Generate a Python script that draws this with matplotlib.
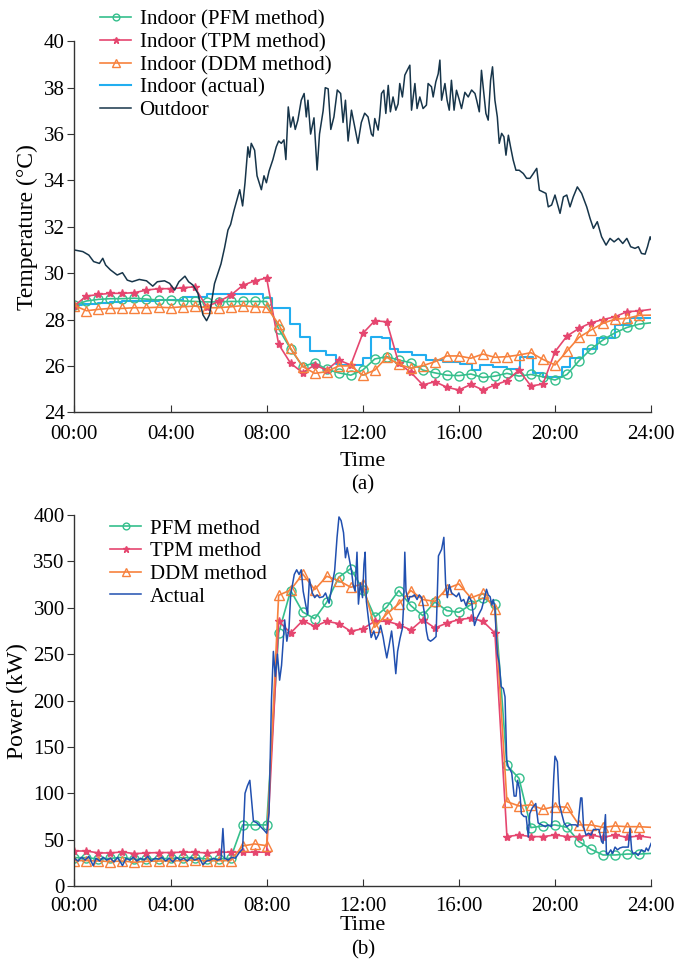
import numpy as np
import matplotlib
matplotlib.use('Agg')
import matplotlib.pyplot as plt

plt.rcParams['font.family'] = ['Liberation Serif', 'DejaVu Serif']
plt.rcParams['font.size'] = 15

# half-hourly model results (00:00 ... 24:00)
hours = np.arange(49) * 0.5

# ---- (a) indoor / outdoor temperature ----
pfm_temp = [28.62, 28.8, 28.87, 28.9, 28.9, 28.92, 28.88, 28.84, 28.84, 28.8, 28.78, 28.76, 28.76,
            28.78, 28.78, 28.78, 28.78, 27.6, 26.73, 25.97, 26.14, 25.85, 25.7, 25.6, 25.82, 26.3,
            26.4, 26.25, 26.14, 25.82, 25.7, 25.6, 25.58, 25.65, 25.5, 25.56, 25.68, 25.56, 25.63,
            25.53, 25.39, 25.63, 26.22, 26.73, 27.12, 27.43, 27.66, 27.8, 27.86]
tpm_temp = [28.6, 29.01, 29.08, 29.13, 29.13, 29.16, 29.27, 29.33, 29.33, 29.37, 29.41, 28.55, 28.78,
            29.04, 29.47, 29.67, 29.79, 26.93, 26.11, 25.71, 26.04, 25.82, 26.25, 26.04, 27.4, 27.95,
            27.9, 26.11, 25.72, 25.18, 25.32, 25.08, 24.96, 25.2, 24.96, 25.18, 25.36, 25.82, 25.13,
            25.22, 26.61, 27.29, 27.62, 27.86, 28.0, 28.12, 28.34, 28.37, 28.44]
ddm_temp = [28.6, 28.38, 28.44, 28.48, 28.48, 28.51, 28.51, 28.53, 28.51, 28.55, 28.58, 28.51, 28.51,
            28.55, 28.6, 28.55, 28.53, 27.8, 26.76, 25.97, 25.68, 25.75, 26.0, 26.0, 25.6, 25.82,
            26.37, 26.07, 25.9, 26.01, 26.18, 26.43, 26.43, 26.33, 26.51, 26.37, 26.4, 26.47, 26.57,
            26.28, 26.04, 26.64, 27.23, 27.55, 27.84, 28.02, 28.05, 28.18, 28.19]

# measured indoor temperature (step changes)
indoor_t = [0, 0.3, 1.0, 1.5, 2.0, 2.5, 3.0, 3.5, 4.0, 4.5, 5.5, 7.85, 8.22, 8.99, 9.375, 9.79,
            10.49, 10.9, 11.04, 12.0, 12.36, 12.78, 13.125, 13.47, 14.03, 14.65, 15.35, 16.04,
            16.53, 16.875, 17.43, 17.99, 18.54, 19.1, 19.51, 20.28, 20.625, 21.18, 21.74, 22.5,
            23.125, 24.0]
indoor_v = [28.62, 28.68, 28.72, 28.75, 28.78, 28.8, 28.82, 28.84, 28.86, 28.97, 29.08, 28.94,
            28.48, 27.8, 27.24, 26.64, 26.47, 26.1, 26.04, 26.33, 27.26, 27.2, 26.73, 26.61, 26.47,
            26.25, 26.18, 26.08, 25.82, 26.04, 25.97, 25.87, 26.4, 25.7, 25.53, 25.97, 26.33, 26.72,
            27.19, 27.76, 28.05, 28.05]

# outdoor temperature
outdoor_t = [0.0, 0.35, 0.6, 0.8, 1.04, 1.18, 1.3, 1.5, 1.78, 2.0, 2.2, 2.4, 2.7, 3.0, 3.26, 3.45,
             3.75, 3.96, 4.17, 4.35, 4.6, 4.75, 4.93, 5.14, 5.35, 5.5, 5.62, 5.83, 6.1, 6.25, 6.39,
             6.5, 6.64, 6.8, 6.88, 7.0, 7.1, 7.22, 7.29, 7.36, 7.5, 7.6, 7.78, 7.89, 7.99, 8.1, 8.26,
             8.4, 8.5, 8.61, 8.72, 8.8, 8.9, 9.0, 9.1, 9.19, 9.3, 9.44, 9.56, 9.65, 9.72, 9.83,
             9.97, 10.1, 10.2, 10.35, 10.44, 10.56, 10.67, 10.8, 10.94, 11.08, 11.18, 11.28, 11.39,
             11.53, 11.67, 11.8, 11.94, 12.08, 12.22, 12.36, 12.43, 12.5, 12.64, 12.71, 12.78,
             12.875, 12.96, 13.06, 13.15, 13.26, 13.375, 13.47, 13.54, 13.65, 13.75, 13.85, 13.96,
             14.03, 14.17, 14.26, 14.375, 14.51, 14.65, 14.72, 14.86, 14.93, 15.04, 15.14, 15.21,
             15.28, 15.42, 15.51, 15.6, 15.69, 15.8, 15.9, 16.01, 16.11, 16.25, 16.39, 16.53, 16.67,
             16.74, 16.85, 16.94, 17.04, 17.125, 17.22, 17.32, 17.4, 17.5, 17.6, 17.68, 17.78,
             17.875, 17.96, 18.06, 18.15, 18.26, 18.375, 18.51, 18.68, 18.82, 18.96, 19.1, 19.24,
             19.35, 19.49, 19.625, 19.72, 19.86, 20.0, 20.1, 20.21, 20.35, 20.49, 20.625, 20.76,
             20.93, 21.11, 21.32, 21.46, 21.6, 21.76, 21.94, 22.125, 22.29, 22.46, 22.64, 22.82,
             22.99, 23.15, 23.33, 23.47, 23.6, 23.75, 23.85, 23.96, 24.0]
outdoor_v = [31.0, 30.93, 30.78, 30.5, 30.42, 30.64, 30.35, 30.14, 29.92, 30.02, 29.7, 29.63, 29.73,
             29.67, 29.44, 29.63, 29.67, 29.56, 29.27, 29.63, 29.87, 29.63, 29.49, 29.13, 28.2, 27.95,
             28.2, 29.55, 30.4, 31.1, 31.86, 32.1, 32.7, 33.3, 33.6, 32.9, 33.9, 35.45, 35.0, 35.6,
             35.3, 34.2, 33.6, 34.2, 33.9, 34.4, 34.9, 35.45, 35.7, 35.6, 35.75, 34.9, 37.17, 36.3,
             36.74, 36.2, 36.6, 37.46, 37.75, 36.74, 37.46, 36.0, 36.7, 34.45, 36.0, 37.0, 38.0,
             37.95, 36.2, 36.74, 37.9, 37.75, 36.5, 37.46, 35.7, 37.03, 36.3, 35.6, 36.5, 36.9, 36.74,
             36.0, 35.91, 36.67, 36.17, 36.81, 37.75, 37.89, 36.89, 38.1, 36.96, 37.6, 37.03, 37.3,
             38.18, 37.6, 38.54, 38.75, 38.97, 37.03, 38.18, 37.1, 37.6, 37.1, 37.25, 38.18, 38.04,
             37.6, 38.25, 38.6, 39.19, 37.46, 38.18, 37.46, 37.03, 38.32, 37.03, 37.89, 37.5, 37.1,
             37.8, 37.6, 37.9, 37.75, 37.46, 36.96, 38.75, 37.75, 36.89, 36.6, 38.32, 38.9, 37.46,
             36.74, 35.6, 36.03, 35.88, 35.09, 35.95, 35.45, 34.88, 34.44, 34.44, 34.3, 34.09, 34.09,
             34.3, 34.52, 33.58, 33.51, 33.44, 32.86, 32.94, 33.37, 33.0, 32.58, 33.29, 33.37, 32.86,
             33.29, 33.72, 33.44, 32.86, 32.36, 31.93, 32.22, 31.57, 31.21, 31.5, 31.35, 31.5, 31.28,
             31.5, 31.14, 31.07, 31.14, 30.85, 30.82, 31.14, 31.57, 31.45]

# ---- (b) power ----
pfm_power = [30.6, 30.6, 29.2, 29.9, 31.0, 28.8, 29.2, 29.2, 29.9, 30.6, 30.6, 29.2, 29.2, 30.0,
             65.9, 65.9, 65.9, 273.0, 318.6, 295.5, 288.3, 306.0, 333.0, 342.3, 319.7, 290.1, 300.9,
             318.6, 302.4, 291.6, 306.3, 297.0, 295.2, 303.5, 310.6, 304.2, 130.0, 116.3, 63.0, 64.8,
             65.9, 63.3, 47.9, 39.6, 33.5, 33.5, 34.5, 34.5, 35.2]
tpm_power = [37.8, 37.8, 35.7, 35.7, 36.8, 34.9, 35.7, 36.1, 36.1, 36.5, 36.5, 35.7, 36.5, 36.5,
             36.5, 36.5, 36.5, 285.5, 272.9, 286.2, 280.0, 285.5, 283.0, 274.7, 277.5, 285.5, 285.5,
             281.9, 276.1, 287.3, 278.2, 283.6, 287.3, 289.0, 285.5, 272.9, 53.3, 55.1, 53.3, 53.3,
             55.1, 53.3, 53.3, 55.1, 52.5, 55.1, 52.5, 54.0, 52.2]
ddm_power = [27.4, 27.4, 27.0, 26.4, 27.0, 25.7, 26.7, 27.0, 27.0, 27.4, 28.1, 27.0, 27.4, 27.4,
             43.2, 45.4, 43.5, 313.5, 319.3, 336.6, 319.7, 334.0, 329.4, 322.2, 325.8, 279.0, 293.4,
             304.2, 318.6, 308.9, 307.0, 320.7, 325.8, 310.7, 315.7, 298.8, 91.0, 86.4, 87.5, 82.8,
             85.7, 85.0, 65.9, 65.9, 63.3, 64.8, 64.0, 64.0, 63.3]

actual_t = [0.0, 0.15, 0.3, 0.45, 0.6, 0.78, 0.9, 1.05, 1.2, 1.35, 1.5, 1.65, 1.8, 2.0, 2.15, 2.3,
            2.45, 2.6, 2.75, 2.9, 3.05, 3.2, 3.35, 3.5, 3.65, 3.8, 3.95, 4.1, 4.25, 4.4, 4.55, 4.7,
            4.85, 5.0, 5.2, 5.35, 5.5, 5.65, 5.8, 5.95, 6.1, 6.18, 6.25, 6.4, 6.55, 6.7, 6.86, 7.0,
            7.1, 7.2, 7.3, 7.38, 7.45, 7.6, 7.75, 7.9, 8.0, 8.1, 8.2, 8.28, 8.36, 8.45, 8.54, 8.62,
            8.75, 8.84, 8.93, 9.0, 9.15, 9.25, 9.35, 9.44, 9.52, 9.6, 9.7, 9.78, 9.9, 10.0, 10.1,
            10.2, 10.35, 10.45, 10.6, 10.7, 10.83, 10.93, 11.01, 11.1, 11.2, 11.28, 11.35, 11.53,
            11.6, 11.68, 11.76, 11.82, 11.9, 11.99, 12.05, 12.1, 12.15, 12.25, 12.35, 12.46, 12.55,
            12.65, 12.74, 12.85, 12.9, 13.0, 13.1, 13.2, 13.28, 13.375, 13.45, 13.55, 13.65, 13.7,
            13.75, 13.8, 13.9, 13.96, 14.05, 14.15, 14.26, 14.35, 14.45, 14.51, 14.58, 14.65, 14.72,
            14.82, 14.93, 15.05, 15.15, 15.28, 15.375, 15.45, 15.52, 15.6, 15.7, 15.8, 15.9, 16.0,
            16.1, 16.2, 16.3, 16.42, 16.53, 16.65, 16.75, 16.85, 16.95, 17.05, 17.15, 17.22, 17.3,
            17.37, 17.43, 17.5, 17.54, 17.6, 17.68, 17.76, 17.85, 17.92, 17.99, 18.05, 18.12, 18.2,
            18.3, 18.38, 18.44, 18.53, 18.6, 18.71, 18.8, 18.89, 18.95, 19.05, 19.2, 19.3, 19.45,
            19.6, 19.7, 19.86, 19.95, 20.0, 20.1, 20.18, 20.28, 20.38, 20.49, 20.6, 20.76, 20.87,
            20.95, 21.07, 21.12, 21.19, 21.29, 21.4, 21.5, 21.6, 21.72, 21.83, 21.94, 22.0, 22.1,
            22.14, 22.2, 22.32, 22.4, 22.5, 22.6, 22.7, 22.82, 22.96, 23.05, 23.12, 23.19, 23.25,
            23.35, 23.46, 23.6, 23.74, 23.8, 23.88, 24.0]
actual_p = [30, 27, 31, 28, 32, 22, 30, 27, 31, 28, 30, 26, 31, 22, 30, 28, 31, 27, 30, 28, 32, 27,
            30, 29, 31, 27, 30, 26, 31, 28, 30, 27, 31, 28, 30, 23, 27, 28, 30, 28, 29, 62, 30, 28,
            31, 30, 36, 40, 100, 108, 114, 90, 70, 68, 64, 60, 57, 79, 200, 253, 226, 250, 222, 238,
            287, 264, 278, 314, 336, 341, 336, 341, 318, 307, 293, 331, 316, 311, 314, 311, 312, 316,
            305, 321, 340, 376, 398, 394, 381, 354, 365, 340, 325, 318, 360, 304, 327, 311, 347, 360,
            307, 285, 268, 275, 266, 271, 281, 268, 260, 246, 260, 275, 257, 229, 253, 267, 278, 303,
            360, 318, 307, 312, 312, 314, 309, 314, 311, 303, 292, 275, 266, 264, 266, 269, 356, 363,
            376, 325, 311, 325, 316, 314, 312, 316, 307, 309, 302, 312, 307, 281, 289, 294, 299, 309,
            320, 314, 312, 303, 309, 300, 278, 251, 240, 215, 213, 204, 136, 129, 126, 122, 97, 97,
            114, 104, 78, 75, 75, 53, 78, 84, 89, 68, 66, 64, 66, 64, 118, 140, 134, 89, 78, 68, 64,
            66, 66, 66, 64, 95, 95, 64, 55, 57, 55, 61, 61, 61, 48, 46, 77, 35, 34, 39, 35, 42, 39,
            41, 42, 42, 42, 62, 39, 35, 36, 33, 39, 37, 41, 38, 46]

tick_pos = [0, 4, 8, 12, 16, 20, 24]
tick_lbl = ['00:00', '04:00', '08:00', '12:00', '16:00', '20:00', '24:00']

c_pfm = '#35bf8c'
c_tpm = '#e5466f'
c_ddm = '#f7813d'
c_indoor = '#22aef0'
c_out = '#17354a'
c_act = '#2150b0'

fig = plt.figure(figsize=(6.89, 9.61), dpi=100)
ax1 = fig.add_axes([0.108, 0.571, 0.837, 0.386])
ax2 = fig.add_axes([0.108, 0.078, 0.837, 0.386])

mk = slice(0, 48)   # no marker on the final 24:00 point


def style_axes(ax, xpad, labpad):
    for s in ['top', 'right']:
        ax.spines[s].set_visible(False)
    for s in ['left', 'bottom']:
        ax.spines[s].set_color('#333333')
        ax.spines[s].set_linewidth(1.0)
    ax.set_xlim(0, 24)
    ax.set_xticks(tick_pos)
    ax.set_xticklabels(tick_lbl)
    ax.tick_params(axis='x', direction='in', length=5, color='#333333', pad=xpad)
    ax.tick_params(axis='y', direction='out', length=5, color='#333333', pad=2)
    ax.set_xlabel('Time', fontsize=16, labelpad=labpad)


# (a)
ax1.plot(indoor_t, indoor_v, drawstyle='steps-post', color=c_indoor, lw=1.5, label='Indoor (actual)')
ax1.plot(hours, pfm_temp, color=c_pfm, lw=1.2, marker='o', ms=6.5, mfc='none', mew=1.0,
         markevery=mk, label='Indoor (PFM method)')
ax1.plot(hours, tpm_temp, color=c_tpm, lw=1.2, marker='*', ms=6, markevery=mk,
         label='Indoor (TPM method)')
ax1.plot(hours, ddm_temp, color=c_ddm, lw=1.2, marker='^', ms=7, mfc='none', mew=1.0,
         markevery=mk, label='Indoor (DDM method)')
ax1.plot(outdoor_t, outdoor_v, color=c_out, lw=1.1, label='Outdoor')
ax1.set_ylim(24, 40)
ax1.set_yticks(range(24, 41, 2))
ax1.set_ylabel('Temperature (°C)', fontsize=17, labelpad=4)
style_axes(ax1, 9, 6)
h, l = ax1.get_legend_handles_labels()
order = [1, 2, 3, 0, 4]
ax1.legend([h[i] for i in order], [l[i] for i in order], loc='upper left',
           bbox_to_anchor=(100 / 689, 1 - 10 / 961), bbox_transform=fig.transFigure,
           frameon=False, borderpad=0, borderaxespad=0, handlelength=1.5,
           handletextpad=0.4, labelspacing=0.15, markerscale=0.75)
ax1.text(0.5, -0.195, '(a)', transform=ax1.transAxes, ha='center', va='center')

# (b)
ax2.plot(hours, pfm_power, color=c_pfm, lw=1.2, marker='o', ms=6.5, mfc='none', mew=1.0,
         markevery=mk, label='PFM method')
ax2.plot(hours, tpm_power, color=c_tpm, lw=1.2, marker='*', ms=6, markevery=mk,
         label='TPM method')
ax2.plot(hours, ddm_power, color=c_ddm, lw=1.2, marker='^', ms=7, mfc='none', mew=1.0,
         markevery=mk, label='DDM method')
ax2.plot(actual_t, actual_p, color=c_act, lw=1.1, label='Actual')
ax2.set_ylim(0, 400)
ax2.set_yticks(range(0, 401, 50))
ax2.set_ylabel('Power (kW)', fontsize=17, labelpad=4)
style_axes(ax2, 8, 0)
ax2.legend(loc='upper left', bbox_to_anchor=(110 / 689, 1 - 519 / 961),
           bbox_transform=fig.transFigure, frameon=False, borderpad=0, borderaxespad=0,
           handlelength=1.5, handletextpad=0.4, labelspacing=0.15, markerscale=0.75)
ax2.text(0.5, -0.172, '(b)', transform=ax2.transAxes, ha='center', va='center')

fig.savefig('out.png', dpi=100)
